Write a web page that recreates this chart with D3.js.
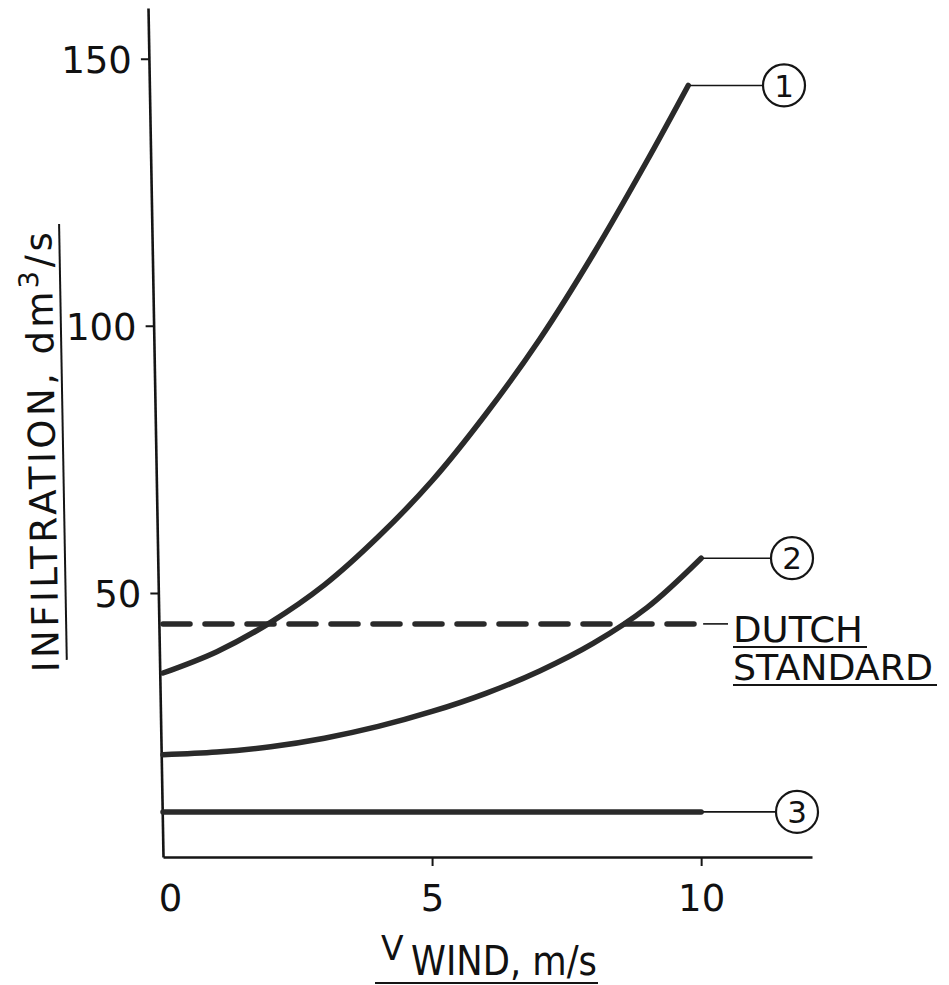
<!DOCTYPE html>
<html>
<head>
<meta charset="utf-8">
<script src="https://cdn.jsdelivr.net/npm/d3@7"></script>
<style>
    body { margin: 0; background: #fff; }
    svg text { font-family: "DejaVu Sans", "Liberation Sans", sans-serif; fill: #111; }
</style>
</head>
<body>
<svg id="chart" width="949" height="985"></svg>
<script>
// values (wind speed in m/s, infiltration in dm3/s)
var wind1 = [0, 1, 2, 3, 4, 5, 6, 7, 8, 9, 9.76];
var infil1 = [35, 39, 44.5, 51.5, 60.5, 71, 83.5, 97.5, 113.5, 131, 145];
var wind2 = [0, 1, 2, 3, 4, 5, 6, 7, 8, 9, 10];
var infil2 = [19.7, 20.2, 21.2, 22.8, 25, 27.8, 31.2, 35.4, 40.6, 47.3, 56.5];
var wind3 = [0, 10];
var infil3 = [9, 9];
var windStd = [0, 10];
var dutchStandard = [44.2, 44.2];
var curveNames = ['1', '2', '3'];
var xTicks = [0, 5, 10];
var yTicks = [50, 100, 150];

var svg = d3.select('#chart');
var ink = '#151515';
var lineInk = '#2a2a2a';

// scanned figure: y axis leans a little to the left towards the top
var lean = 15 / 849;
var leanDeg = Math.atan(lean) * 180 / Math.PI;

var x = d3.scaleLinear().domain([0, 12.06]).range([163, 812]);
var y = d3.scaleLinear().domain([0.56, 159.5]).range([857, 8]);

// ---- axes
var yAxisG = svg.append('g')
    .attr('transform', 'translate(' + (163 - lean * 857) + ',0) skewX(' + leanDeg + ')')
    .call(d3.axisLeft(y).tickValues(yTicks).tickSize(8).tickSizeOuter(0).tickFormat(d3.format('d')));

var xAxisG = svg.append('g')
    .attr('transform', 'translate(0,857)')
    .call(d3.axisBottom(x).tickValues(xTicks).tickSize(9).tickSizeOuter(0).tickFormat(d3.format('d')));

[yAxisG, xAxisG].forEach(function (g) {
    g.select('.domain').attr('stroke', ink).attr('stroke-width', 2.6);
    g.selectAll('.tick line').attr('stroke', ink).attr('stroke-width', 2);
    g.selectAll('.tick text')
        .style('font-size', '37px')
        .attr('fill', ink);
});

yAxisG.selectAll('.tick text').attr('x', -17).attr('dy', '0.36em');
xAxisG.selectAll('.tick text').attr('y', 54).attr('dy', 0);
xAxisG.selectAll('.tick').filter(function (d) { return d === 0; })
    .call(function (t) {
        t.select('line').remove();
        t.select('text').attr('dx', 7);
    });

// ---- curves
var line = d3.line()
    .x(function (d) { return x(d[0]); })
    .y(function (d) { return y(d[1]); })
    .curve(d3.curveCatmullRom);

var series = [
    d3.zip(wind1, infil1),
    d3.zip(wind2, infil2),
    d3.zip(wind3, infil3)
];

svg.append('g').selectAll('path.curve')
    .data(series)
    .enter().append('path')
    .attr('class', 'curve')
    .attr('d', line)
    .attr('fill', 'none')
    .attr('stroke', lineInk)
    .attr('stroke-width', 5.5)
    .attr('stroke-linecap', 'round');

svg.append('path')
    .attr('d', line(d3.zip(windStd, dutchStandard)))
    .attr('fill', 'none')
    .attr('stroke', lineInk)
    .attr('stroke-width', 5.5)
    .attr('stroke-linecap', 'round')
    .attr('stroke-dasharray', '27 15');

// ---- numbered labels with leader lines
var labelCx = [784, 792, 797];
var r = 21;

var labels = svg.append('g').selectAll('g')
    .data(series)
    .enter().append('g');

labels.append('line')
    .attr('x1', function (d) { return x(d[d.length - 1][0]) + 2; })
    .attr('x2', function (d, i) { return labelCx[i] - r; })
    .attr('y1', function (d) { return y(d[d.length - 1][1]); })
    .attr('y2', function (d) { return y(d[d.length - 1][1]); })
    .attr('stroke', ink)
    .attr('stroke-width', 1.6);

labels.append('circle')
    .attr('cx', function (d, i) { return labelCx[i]; })
    .attr('cy', function (d) { return y(d[d.length - 1][1]); })
    .attr('r', r)
    .attr('fill', 'none')
    .attr('stroke', ink)
    .attr('stroke-width', 2.2);

labels.append('text')
    .attr('x', function (d, i) { return labelCx[i]; })
    .attr('y', function (d) { return y(d[d.length - 1][1]); })
    .attr('dy', '0.36em')
    .attr('text-anchor', 'middle')
    .style('font-size', '31px')
    .text(function (d, i) { return curveNames[i]; });

// dutch standard label
var stdY = y(dutchStandard[1]);
svg.append('line')
    .attr('x1', x(windStd[1]) + 2).attr('x2', 728)
    .attr('y1', stdY).attr('y2', stdY)
    .attr('stroke', ink).attr('stroke-width', 1.6);

[['DUTCH', 130, 18], ['STANDARD', 200, 56]].forEach(function (w) {
    svg.append('text')
        .attr('x', 733)
        .attr('y', stdY + w[2])
        .attr('textLength', w[1])
        .attr('lengthAdjust', 'spacingAndGlyphs')
        .style('font-size', '36px')
        .text(w[0]);
    svg.append('line')
        .attr('x1', 733).attr('x2', 733 + w[1] + 4)
        .attr('y1', stdY + w[2] + 5).attr('y2', stdY + w[2] + 5)
        .attr('stroke', ink).attr('stroke-width', 2);
});

// ---- axis titles
var xt = svg.append('text').attr('y', 960);
xt.append('tspan').attr('x', 381).style('font-size', '33px').text('V');
xt.append('tspan').attr('x', 411).attr('dy', 15).attr('textLength', 186)
    .attr('lengthAdjust', 'spacingAndGlyphs').style('font-size', '40px').text('WIND, m/s');
svg.append('line')
    .attr('x1', 375).attr('x2', 598)
    .attr('y1', 983).attr('y2', 983)
    .attr('stroke', ink).attr('stroke-width', 2);

var yt = svg.append('g')
    .attr('transform', 'translate(59,672) rotate(' + (-90 - leanDeg) + ')');
var ytText = yt.append('text')
    .attr('x', 0).attr('y', 0)
    .attr('textLength', 440)
    .attr('lengthAdjust', 'spacing')
    .style('font-size', '37px');
ytText.append('tspan').text('INFILTRATION, dm');
ytText.append('tspan').attr('dy', -14).style('font-size', '27px').text('3');
ytText.append('tspan').attr('dy', 14).text('/s');
yt.append('line')
    .attr('x1', 12).attr('x2', 448)
    .attr('y1', 8).attr('y2', 8)
    .attr('stroke', ink).attr('stroke-width', 2);
</script>
</body>
</html>
